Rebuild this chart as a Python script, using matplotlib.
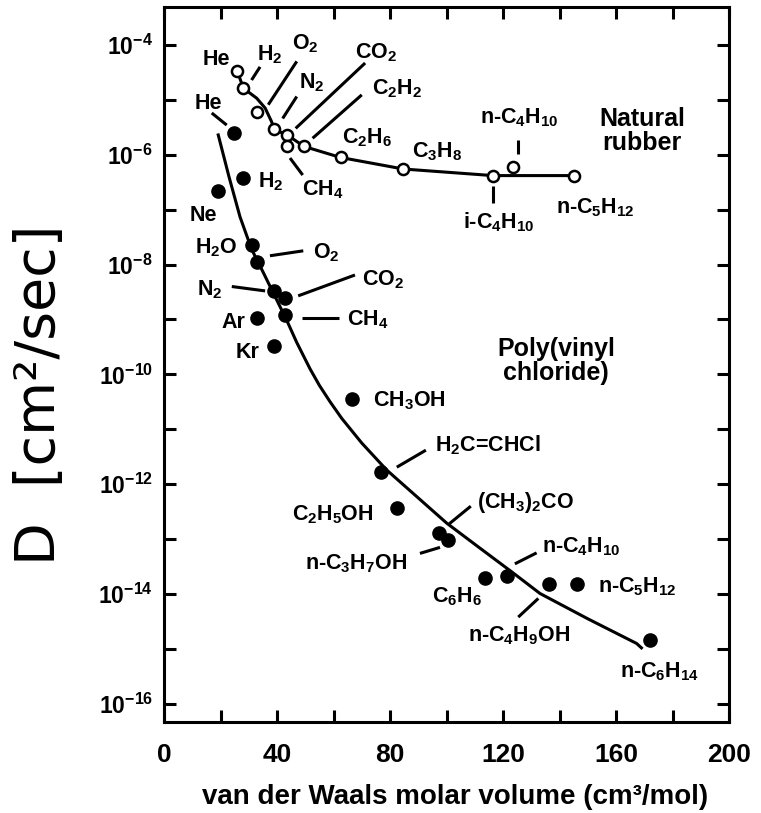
import numpy as np
import matplotlib
matplotlib.use('Agg')
import matplotlib.pyplot as plt
from matplotlib.ticker import FixedLocator, FuncFormatter, NullFormatter

# diffusion coefficients vs van der Waals volume, natural rubber (open) and PVC (filled)
rubber_names = ['He', 'H2', 'O2', 'N2', 'CO2', 'CH4', 'C2H2', 'C2H6', 'C3H8',
                'i-C4H10', 'n-C4H10', 'n-C5H12']
rubber_vol = [25.9, 28.1, 33.0, 38.9, 43.6, 43.6, 49.6, 62.5, 84.7, 116.4, 123.4, 145.1]
rubber_logD = [-4.47, -4.79, -5.23, -5.54, -5.64, -5.85, -5.85, -6.05, -6.26, -6.38, -6.23, -6.38]

pvc_names = ['He', 'H2', 'Ne', 'H2O', 'O2', 'N2', 'CO2', 'CH4', 'Ar', 'Kr', 'CH3OH',
             'H2C=CHCl', 'C2H5OH', '(CH3)2CO', 'n-C3H7OH', 'C6H6', 'n-C4H10',
             'n-C4H9OH', 'n-C5H12', 'n-C6H14']
pvc_vol = [24.9, 28.1, 19.2, 31.0, 33.0, 38.9, 42.8, 42.8, 33.0, 38.9, 66.7,
           76.7, 82.6, 97.4, 100.6, 113.6, 121.3, 136.4, 146.1, 172.0]
pvc_logD = [-5.61, -6.42, -6.66, -7.64, -7.95, -8.48, -8.61, -8.92, -8.98, -9.48, -10.45,
            -11.77, -12.44, -12.89, -13.02, -13.71, -13.67, -13.81, -13.81, -14.83]

# hand-drawn trend curves
rubber_curve_vol = [25.9, 28.1, 32.8, 35.8, 38.1, 38.9, 43.6, 49.6, 62.5, 84.7, 116.4, 145.1]
rubber_curve_logD = [-4.47, -4.79, -4.97, -5.15, -5.40, -5.54, -5.64, -5.85, -6.05, -6.26, -6.38, -6.38]
pvc_curve_vol = [19.2, 23, 26.9, 31, 35, 39, 43.4, 47, 51.7, 55, 58.8, 62.9, 70, 78.8, 90,
                 100.1, 112, 123.7, 133.1, 150, 167.3, 169]
pvc_curve_logD = [-5.64, -6.4, -7.13, -7.72, -8.13, -8.55, -9.01, -9.42, -9.9, -10.2, -10.5,
                  -10.8, -11.25, -11.74, -12.25, -12.71, -13.17, -13.62, -13.99, -14.45,
                  -14.9, -14.98]

# label text, position (vol, log D), optional leader line
rubber_labels = [
    ('He', 13.5, -4.26, None),
    ('$H_2$', 32.9, -4.18, (31.0, -4.64, 34.0, -4.40)),
    ('$O_2$', 45.3, -3.97, (36.9, -5.09, 47.0, -4.30)),
    ('$N_2$', 47.8, -4.69, (42.0, -5.34, 47.0, -4.94)),
    ('$CO_2$', 67.6, -4.15, (46.6, -5.52, 71.2, -4.33)),
    ('$C_2H_2$', 73.6, -4.80, (52.6, -5.70, 70.0, -4.91)),
    ('$C_2H_6$', 63.0, -5.69, None),
    ('$C_3H_8$', 87.8, -5.95, None),
    ('$CH_4$', 48.8, -6.64, (44.6, -6.06, 49.1, -6.37)),
    ('n-$C_4H_{10}$', 111.9, -5.33, (125.4, -5.73, 125.4, -5.99)),
    ('i-$C_4H_{10}$', 105.8, -7.22, (116.4, -6.57, 116.4, -6.88)),
    ('n-$C_5H_{12}$', 138.8, -6.97, None),
]
pvc_labels = [
    ('He', 11.0, -5.06, (16.9, -5.24, 22.2, -5.46)),
    ('$H_2$', 33.3, -6.50, None),
    ('Ne', 9.2, -7.11, None),
    ('$H_2O$', 11.0, -7.70, None),
    ('$O_2$', 52.7, -7.79, (37.5, -7.84, 49.3, -7.75)),
    ('$CO_2$', 70.1, -8.28, (47.5, -8.57, 67.6, -8.19)),
    ('$N_2$', 11.7, -8.46, (24.0, -8.40, 35.8, -8.48)),
    ('$CH_4$', 64.8, -9.01, (48.7, -8.97, 62.1, -8.97)),
    ('Ar', 20.5, -9.05, None),
    ('Kr', 25.5, -9.61, None),
    ('$CH_3OH$', 74.0, -10.48, None),
    ('$H_2C$=CHCl', 95.9, -11.29, (82.4, -11.69, 92.7, -11.38)),
    ('$C_2H_5OH$', 45.3, -12.56, None),
    ('$(CH_3)_2CO$', 110.8, -12.34, (101.0, -12.72, 108.6, -12.40)),
    ('n-$C_3H_7OH$', 49.9, -13.44, (90.6, -13.26, 97.7, -13.15)),
    ('n-$C_4H_{10}$', 133.8, -13.14, (124.2, -13.45, 131.9, -13.25)),
    ('$C_6H_6$', 94.9, -14.05, None),
    ('n-$C_5H_{12}$', 153.6, -13.87, None),
    ('n-$C_4H_9OH$', 107.6, -14.75, (125.4, -14.42, 132.5, -14.08)),
    ('n-$C_6H_{14}$', 161.4, -15.42, None),
]

plt.rcParams['font.family'] = ['Liberation Sans', 'DejaVu Sans']
plt.rcParams['font.weight'] = 'bold'
plt.rcParams['mathtext.fontset'] = 'custom'
for k in ('rm', 'it', 'bf', 'sf'):
    plt.rcParams['mathtext.' + k] = 'Liberation Sans:bold'

fig = plt.figure(figsize=(7.61, 8.13), dpi=100)
ax = fig.add_axes([164 / 761, 1 - 722 / 813, 565 / 761, 715 / 813])
ax.set_yscale('log')
ax.set_xlim(0, 200)
ax.set_ylim(10 ** -16.33, 10 ** -3.31)

ax.plot(rubber_curve_vol, 10.0 ** np.array(rubber_curve_logD), color='black', lw=2.2, zorder=2)
ax.plot(pvc_curve_vol, 10.0 ** np.array(pvc_curve_logD), color='black', lw=2.2, zorder=2)
ax.plot(rubber_vol, 10.0 ** np.array(rubber_logD), 'o', ms=8, mfc='white', mec='black',
        mew=1.8, zorder=3)
ax.plot(pvc_vol, 10.0 ** np.array(pvc_logD), 'o', ms=9.5, color='black', zorder=3)

for txt, x, e, lead in rubber_labels + pvc_labels:
    ax.text(x, 10.0 ** e, txt, fontsize=15.5, ha='left', va='center')
    if lead is not None:
        x1, e1, x2, e2 = lead
        ax.plot([x1, x2], [10.0 ** e1, 10.0 ** e2], color='black', lw=2.2,
                solid_capstyle='butt')

ax.text(169.2, 10.0 ** -5.57, 'Natural\nrubber', fontsize=18, ha='center', va='center',
        linespacing=1.0)
ax.text(138.8, 10.0 ** -9.76, 'Poly(vinyl\nchloride)', fontsize=18, ha='center', va='center',
        linespacing=1.0)

ax.xaxis.set_major_locator(FixedLocator([0, 40, 80, 120, 160, 200]))
ax.xaxis.set_minor_locator(FixedLocator([20, 60, 100, 140, 180]))
ax.yaxis.set_major_locator(FixedLocator([10.0 ** e for e in range(-16, -3, 2)]))
ax.yaxis.set_minor_locator(FixedLocator([10.0 ** e for e in range(-15, -4, 2)]))
ax.yaxis.set_minor_formatter(NullFormatter())
ax.yaxis.set_major_formatter(FuncFormatter(lambda v, _: r'$10^{%d}$' % round(np.log10(v))))
ax.tick_params(which='both', direction='in', length=8.5, width=2.2, top=True, right=True)
ax.tick_params(axis='x', labelsize=19, pad=15)
ax.tick_params(axis='y', labelsize=16.5, pad=8)
for s in ax.spines.values():
    s.set_linewidth(2.2)

ax.set_xlabel('van der Waals molar volume (cm³/mol)', fontsize=20, fontweight='bold')
ax.xaxis.set_label_coords(0.515, -0.105)
ax.xaxis.label.set_va('center')
ax.set_ylabel('D  [cm²/sec]', fontsize=40, fontweight='normal',
              family=['DejaVu Sans'])
ax.yaxis.set_label_coords(-0.22, 0.457)
ax.yaxis.label.set_va('center')

fig.savefig('out.png', dpi=100)
